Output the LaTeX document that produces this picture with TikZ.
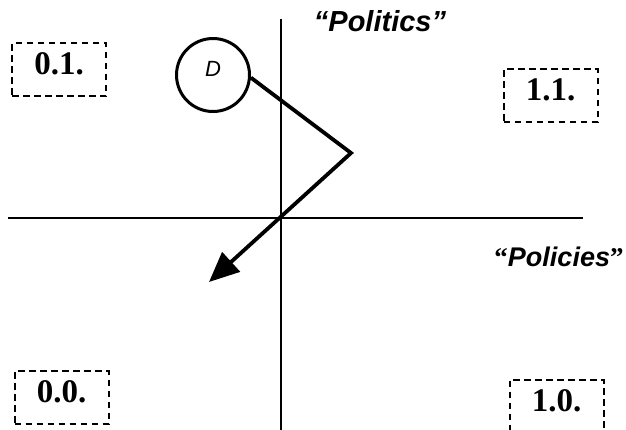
\documentclass[tikz,border=0pt]{standalone}
\usepackage{fontspec}
\setmainfont{Liberation Serif}
\setsansfont{Liberation Sans}
\usepackage{tikz}
\usetikzlibrary{arrows.meta}

\begin{document}
\begin{tikzpicture}[x=1pt,y=-1pt,
  axis/.style={line width=2.6pt},
  quadbox/.style={draw,dashed,dash pattern=on 6.5pt off 4.5pt,line width=2pt,
    minimum width=94pt,minimum height=53pt,inner sep=0pt,text depth=11pt,
    font=\fontsize{33}{33}\selectfont\bfseries},
  axislabel/.style={font=\fontsize{29}{29}\selectfont\sffamily\bfseries\itshape},
  dpath/.style={line width=3.8pt}]
\useasboundingbox (0,0) rectangle (626,429);
% axes
\coordinate (top) at (281,19);
\coordinate (bottom) at (281,432);
\coordinate (left) at (8,218);
\coordinate (right) at (583,218);
\draw[axis] (top) -- (bottom);
\draw[axis] (left) -- (right);
\node[axislabel] (politics) at (380,21) {``Politics''};
\node[font=\fontsize{27}{27}\selectfont\bfseries] (policies) at (559,257)
  {``{\sffamily\itshape Policies}''};
% quadrants
\node[quadbox] (q01) at (59,69.5) {0.1.};
\node[quadbox] (q11) at (550.5,95.5) {1.1.};
\node[quadbox] (q00) at (61.5,397.5) {0.0.};
\node[quadbox] (q10) at (556.5,406) {1.0.};
% path of D
\node[draw,circle,line width=3pt,minimum size=73pt,inner sep=0pt,
  label={[font=\fontsize{22}{22}\selectfont\sffamily\itshape,yshift=6pt]center:D}] (D) at (213,75) {};
\coordinate (bend) at (351,153);
\coordinate (end) at (209,282);
\draw[dpath,-{Triangle[length=30pt,width=26pt]}] (D.-4) -- (bend) -- (end);
\end{tikzpicture}
\end{document}
